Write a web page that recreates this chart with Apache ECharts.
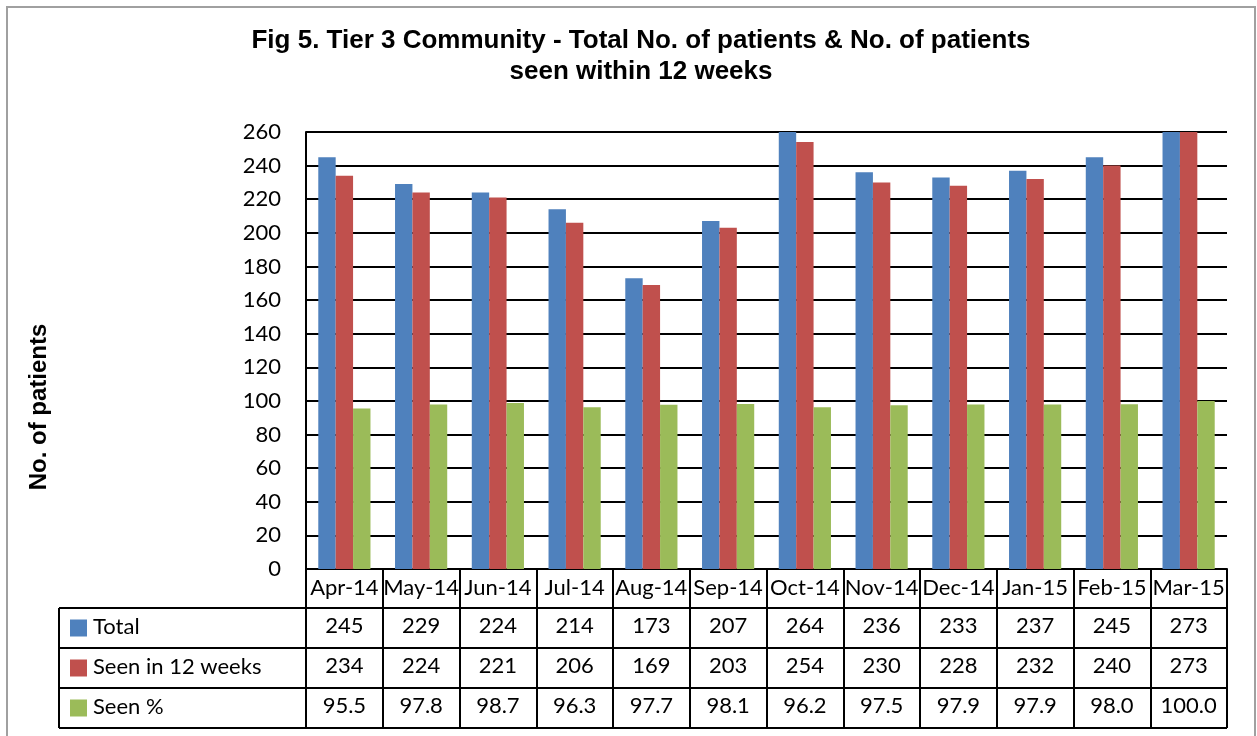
<!DOCTYPE html>
<html>
<head>
<meta charset="utf-8">
<script src="https://cdn.jsdelivr.net/npm/echarts@6/dist/echarts.min.js"></script>
<style>
html,body{margin:0;padding:0;background:#fff;}
#chart{width:1257px;height:736px;}
</style>
</head>
<body>
<div id="chart"></div>
<script>
var categories = ['Apr-14','May-14','Jun-14','Jul-14','Aug-14','Sep-14','Oct-14','Nov-14','Dec-14','Jan-15','Feb-15','Mar-15'];
var totalValues = [245,229,224,214,173,207,264,236,233,237,245,273];
var seenValues = [234,224,221,206,169,203,254,230,228,232,240,273];
var seenPctValues = [95.5,97.8,98.7,96.3,97.7,98.1,96.2,97.5,97.9,97.9,98.0,100.0];
var seriesNames = ['Total','Seen in 12 weeks','Seen %'];
var colors = ['#4F81BD','#C0504D','#9BBB59'];

var W = 1257, H = 736;
var gLeft = 306, gRight = 1227, gTop = 132, gBottom = 569;
var rowH = 40;
var tableLeft = 59;
var tableTop = gBottom + 39; // 608
var rows = 3;
var tableBottom = tableTop + rows * rowH;
var font = 'Lato';
var fs = 22;

var chart = echarts.init(document.getElementById('chart'), null, {renderer:'canvas'});

var graphics = [];
graphics.push({type:'rect', shape:{x:7, y:7, width:1248, height:745}, style:{fill:'none', stroke:'#a0a0a0', lineWidth:2}, silent:true, z:0});
for (var r = 0; r <= rows; r++) {
  var y = tableTop + r * rowH;
  graphics.push({type:'line', shape:{x1:tableLeft, y1:y, x2:gRight, y2:y}, style:{stroke:'#000', lineWidth:2}, z:10});
}
graphics.push({type:'line', shape:{x1:tableLeft, y1:tableTop, x2:tableLeft, y2:tableBottom}, style:{stroke:'#000', lineWidth:2}, z:10});
for (var i = 0; i < rows; i++) {
  var cy = tableTop + i * rowH + rowH / 2;
  graphics.push({type:'rect', shape:{x:70, y:cy - 8.5, width:17, height:17}, style:{fill:colors[i]}, z:10});
  graphics.push({type:'text', x:93, y:cy - 1, style:{text:seriesNames[i], font: fs + 'px ' + font, fill:'#000', textVerticalAlign:'middle', textAlign:'left'}, z:10});
}
graphics.push({type:'text', x:39, y:407, rotation:Math.PI/2, style:{text:'No. of patients', font:'bold 24px "Liberation Sans", Arial', fill:'#000', textAlign:'center', textVerticalAlign:'middle'}, z:10});

function fmt1(v){ return v.toFixed(1); }

var option = {
  backgroundColor:'#fff',
  animation:false,
  title:{
    text:'Fig 5. Tier 3 Community - Total No. of patients & No. of patients\nseen within 12 weeks',
    left:636, top:20, textAlign:'center',
    textStyle:{fontFamily:'"Liberation Sans", Arial', fontWeight:'bold', fontSize:26, color:'#000', lineHeight:31}
  },
  grid:{left:gLeft, right:W - gRight, top:gTop, bottom:H - gBottom, containLabel:false},
  xAxis:{
    type:'category', data:categories,
    axisLine:{show:true, lineStyle:{color:'#000', width:2}},
    axisTick:{show:true, inside:false, length:tableBottom - gBottom, lineStyle:{color:'#000', width:2}},
    axisLabel:{
      interval:0, margin:0,
      formatter:function(v, idx){
        return '{m|' + v + '}\n{v|' + totalValues[idx] + '}\n{v|' + seenValues[idx] + '}\n{v|' + fmt1(seenPctValues[idx]) + '}';
      },
      rich:{
        m:{fontFamily:font, fontSize:fs, color:'#000', lineHeight:rowH - 3, height:rowH - 3, padding:[0,0,0,0]},
        v:{fontFamily:font, fontSize:fs, color:'#000', lineHeight:rowH, height:rowH}
      }
    },
    splitLine:{show:false}
  },
  yAxis:{
    type:'value', min:0, max:260, interval:20,
    axisLine:{show:true, lineStyle:{color:'#000', width:2}},
    axisTick:{show:false},
    axisLabel:{fontFamily:font, fontSize:fs, color:'#000', margin:25, padding:[8,0,0,0]},
    splitLine:{show:true, lineStyle:{color:'#000', width:2}}
  },
  series:[
    {name:seriesNames[0], type:'bar', data:totalValues, itemStyle:{color:colors[0]}, barGap:'0%', barCategoryGap:'32%', clip:true},
    {name:seriesNames[1], type:'bar', data:seenValues, itemStyle:{color:colors[1]}, barGap:'0%', barCategoryGap:'32%', clip:true},
    {name:seriesNames[2], type:'bar', data:seenPctValues, itemStyle:{color:colors[2]}, barGap:'0%', barCategoryGap:'32%', clip:true}
  ],
  graphic:graphics
};
chart.setOption(option);
</script>
</body>
</html>
